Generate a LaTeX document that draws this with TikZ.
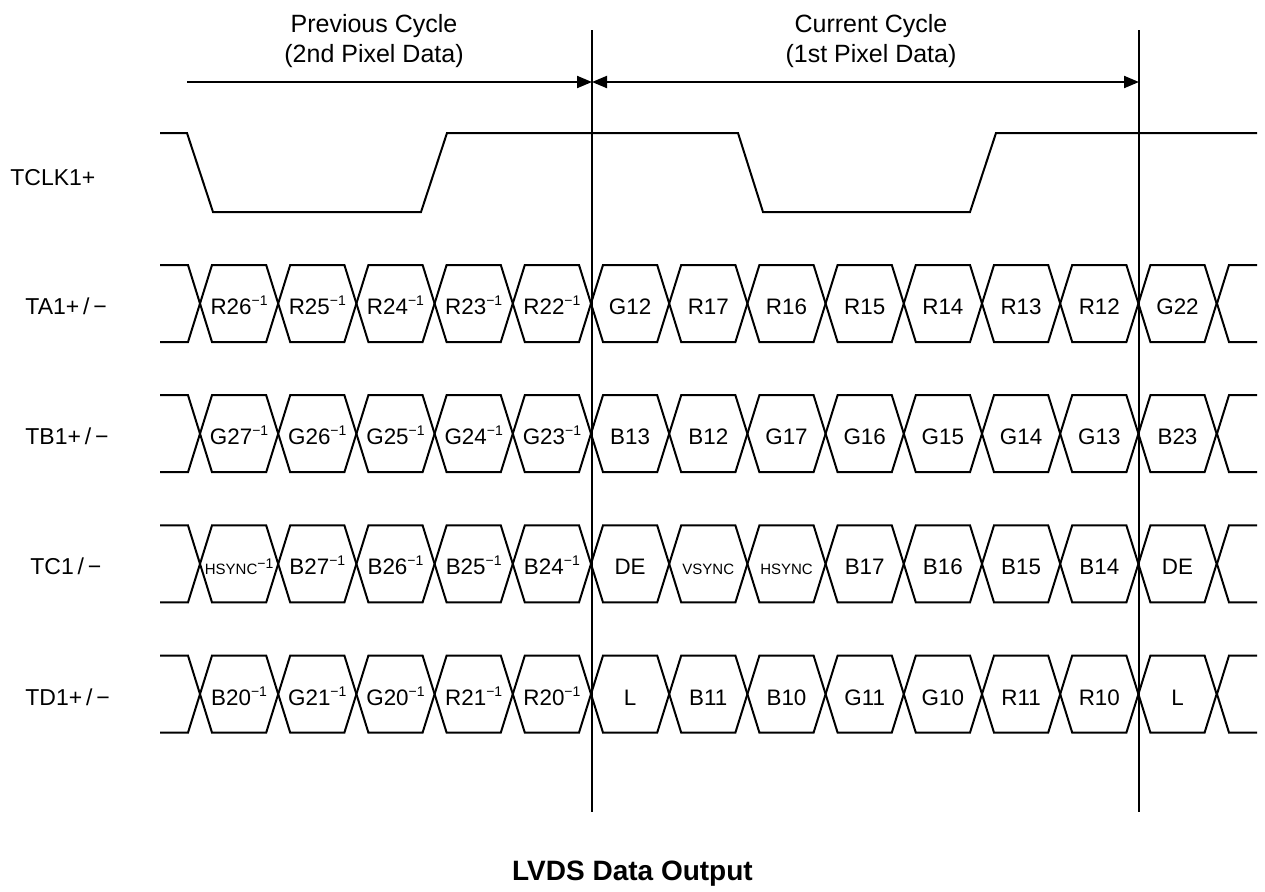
\documentclass[tikz,border=0pt]{standalone}
\usepackage{fontspec}
\setmainfont{Liberation Sans}
\usetikzlibrary{arrows.meta, calc, positioning}
\tikzset{
    wave/.style = {line width=1pt, line join=miter},
    marker/.style = {line width=0.8pt},
    span/.style = {line width=1pt, {Triangle[length=7.5pt,width=6pt]}-{Triangle[length=7.5pt,width=6pt]}},
    spanr/.style = {line width=1pt, -{Triangle[length=7.5pt,width=6pt]}},
    signame/.style = {anchor=west, inner sep=0pt, text height=8pt, text depth=0pt,
                      font=\fontsize{11.5}{13}\selectfont},
    cell/.style = {inner sep=0pt, text height=8pt, text depth=0pt,
                   font=\fontsize{11.2}{13}\selectfont},
    heading/.style = {inner sep=0pt, text height=9pt, text depth=0pt,
                      font=\fontsize{12.5}{15}\selectfont}
}
\newcommand{\invsup}{\raisebox{0.7ex}{\fontsize{7}{7}\selectfont −1}}
\newcommand{\sm}{\fontsize{7.5}{9}\selectfont}
\begin{document}
\begin{tikzpicture}[
      x = 0.5pt, y = -0.5pt % one unit per pixel, y downwards
    ]
    \useasboundingbox (0,0) rectangle (1265,891);

    % cycle borders
    \coordinate (m1top) at (592,30);
    \coordinate (m1bot) at (592,812);
    \coordinate (m2top) at (1139,30);
    \coordinate (m2bot) at (1139,812);
    \draw[marker] (m1top) -- (m1bot);
    \draw[marker] (m2top) -- (m2bot);

    \coordinate (a0) at (187,82);
    \coordinate (a1) at (592,82);
    \coordinate (a2) at (1139,82);
    \draw[spanr] (a0) -- (a1);
    \draw[span] (a1) -- (a2);

    \node[heading] (prev) at (374,23.5) {Previous Cycle};
    \node[heading] (prevsub) at (374,53) {(2nd Pixel Data)};
    \node[heading] (cur) at (871,23.5) {Current Cycle};
    \node[heading] (cursub) at (871,53) {(1st Pixel Data)};

    % signal names
    \node[signame] (clk) at (10,177) {TCLK1+};
    \node[signame] (ta) at (25,306) {TA1+\,/\,−};
    \node[signame] (tb) at (25,436) {TB1+\,/\,−};
    \node[signame] (tc) at (30,566) {TC1\,/\,−};
    \node[signame] (td) at (25,697) {TD1+\,/\,−};

    % clock
    \draw[wave] (160,133) -- (187,133) -- (213,212) -- (421,212) -- (447,133)
        -- (738,133) -- (763,212) -- (970,212) -- (996,133) -- (1257,133);

    % data lanes
    \foreach \yc in {303.5,433.7,563.9,694.1}{
      \draw[wave] (160,\yc-38.5) -- (188,\yc-38.5) -- (200,\yc) -- (188,\yc+38.5) -- (160,\yc+38.5);
      \foreach \k in {0,...,12}
        \draw[wave] (200+78.2*\k,\yc) -- ++(12,-38.5) -- ++(54.2,0) -- ++(12,38.5)
            -- ++(-12,38.5) -- ++(-54.2,0) -- cycle;
      \draw[wave] (1257,\yc-38.5) -- (1229,\yc-38.5) -- (1217,\yc) -- (1229,\yc+38.5) -- (1257,\yc+38.5);
    }

    \foreach \txt [count=\i from 0] in {R26\invsup,R25\invsup,R24\invsup,R23\invsup,R22\invsup,
        G12,R17,R16,R15,R14,R13,R12,G22}
      \node[cell] (ta-\i) at (239.1+78.2*\i,306) {\txt};
    \foreach \txt [count=\i from 0] in {G27\invsup,G26\invsup,G25\invsup,G24\invsup,G23\invsup,
        B13,B12,G17,G16,G15,G14,G13,B23}
      \node[cell] (tb-\i) at (239.1+78.2*\i,436) {\txt};
    \foreach \txt [count=\i from 0] in {\sm HSYNC\invsup,B27\invsup,B26\invsup,B25\invsup,B24\invsup,
        DE,\sm VSYNC,\sm HSYNC,B17,B16,B15,B14,DE}
      \node[cell] (tc-\i) at (239.1+78.2*\i,566) {\txt};
    \foreach \txt [count=\i from 0] in {B20\invsup,G21\invsup,G20\invsup,R21\invsup,R20\invsup,
        L,B11,B10,G11,G10,R11,R10,L}
      \node[cell] (td-\i) at (239.1+78.2*\i,697) {\txt};

    \node[inner sep=0pt, text height=10pt, text depth=0pt,
          font=\fontsize{14}{16}\selectfont\bfseries] (title) at (632.5,870) {LVDS Data Output};
\end{tikzpicture}
\end{document}
